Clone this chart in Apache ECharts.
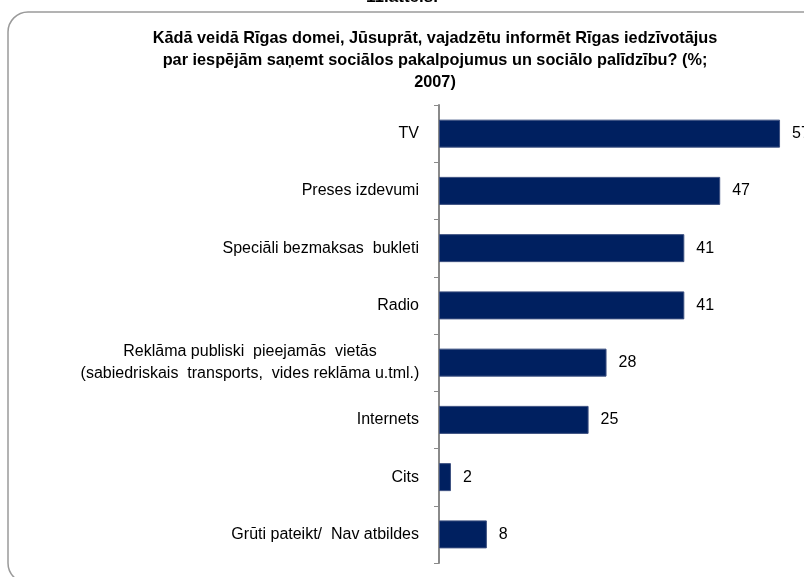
<!DOCTYPE html>
<html>
<head>
<meta charset="utf-8">
<script src="https://cdn.jsdelivr.net/npm/echarts@6/dist/echarts.min.js"></script>
<style>html,body{margin:0;padding:0;background:#fff;}#c{width:804px;height:577px;}</style>
</head>
<body>
<div id="c"></div>
<script>
var categories = [
  'TV',
  'Preses izdevumi',
  'Speciāli bezmaksas  bukleti',
  'Radio',
  'Reklāma publiski  pieejamās  vietās\n(sabiedriskais  transports,  vides reklāma u.tml.)',
  'Internets',
  'Cits',
  'Grūti pateikt/  Nav atbildes'
];
var values = [57, 47, 41, 41, 28, 25, 2, 8];
var titleText = 'Kādā veidā Rīgas domei, Jūsuprāt, vajadzētu informēt Rīgas iedzīvotājus\npar iespējām saņemt sociālos pakalpojumus un sociālo palīdzību? (%;\n2007)';
var figureLabel = '11.attēls.';

var FONT = '"Liberation Sans", Arial, sans-serif';
var LABEL_SIZE = 16;
var chart = echarts.init(document.getElementById('c'), null, {renderer: 'canvas'});
chart.setOption({
  animation: false,
  backgroundColor: '#fff',
  graphic: [
    {type: 'rect', shape: {x: 8, y: 12, width: 830, height: 571, r: 20},
     style: {fill: 'none', stroke: '#9a9a9a', lineWidth: 1.5}, z: -1},
    {type: 'text', x: 402, y: -11, style: {text: figureLabel, fill: '#000',
     font: 'bold 17px ' + FONT, textAlign: 'center'}}
  ],
  title: {
    text: titleText,
    left: 430, top: 23, textAlign: 'center',
    textStyle: {fontFamily: FONT, fontSize: 16.3, fontWeight: 'bold', color: '#000', lineHeight: 22}
  },
  grid: {left: 439, right: 6, top: 105, bottom: 14, containLabel: false},
  xAxis: {
    type: 'value', min: 0, max: 60,
    axisLine: {show: false}, axisTick: {show: false}, axisLabel: {show: false}, splitLine: {show: false}
  },
  yAxis: {
    type: 'category', data: categories, inverse: true,
    axisLine: {show: true, lineStyle: {color: '#8a8a8a', width: 2}},
    axisTick: {show: true, length: 5, lineStyle: {color: '#8a8a8a', width: 1}},
    axisLabel: {
      margin: 20, color: '#000', fontSize: LABEL_SIZE, fontFamily: FONT, lineHeight: 22, align: 'right',
      formatter: function (v) {
        if (v.indexOf('\n') < 0) return v;
        return v.split('\n').map(function (l) { return '{c|' + l + '}'; }).join('\n');
      },
      rich: {c: {width: 338, align: 'center', fontSize: LABEL_SIZE, fontFamily: FONT, lineHeight: 22, color: '#000'}}
    }
  },
  series: [{
    type: 'bar', data: values, barWidth: 28,
    itemStyle: {color: '#002060', borderColor: '#3d5080', borderWidth: 1},
    label: {show: true, position: 'right', distance: 12, color: '#000', fontSize: 16, fontFamily: FONT}
  }]
});
</script>
</body>
</html>
